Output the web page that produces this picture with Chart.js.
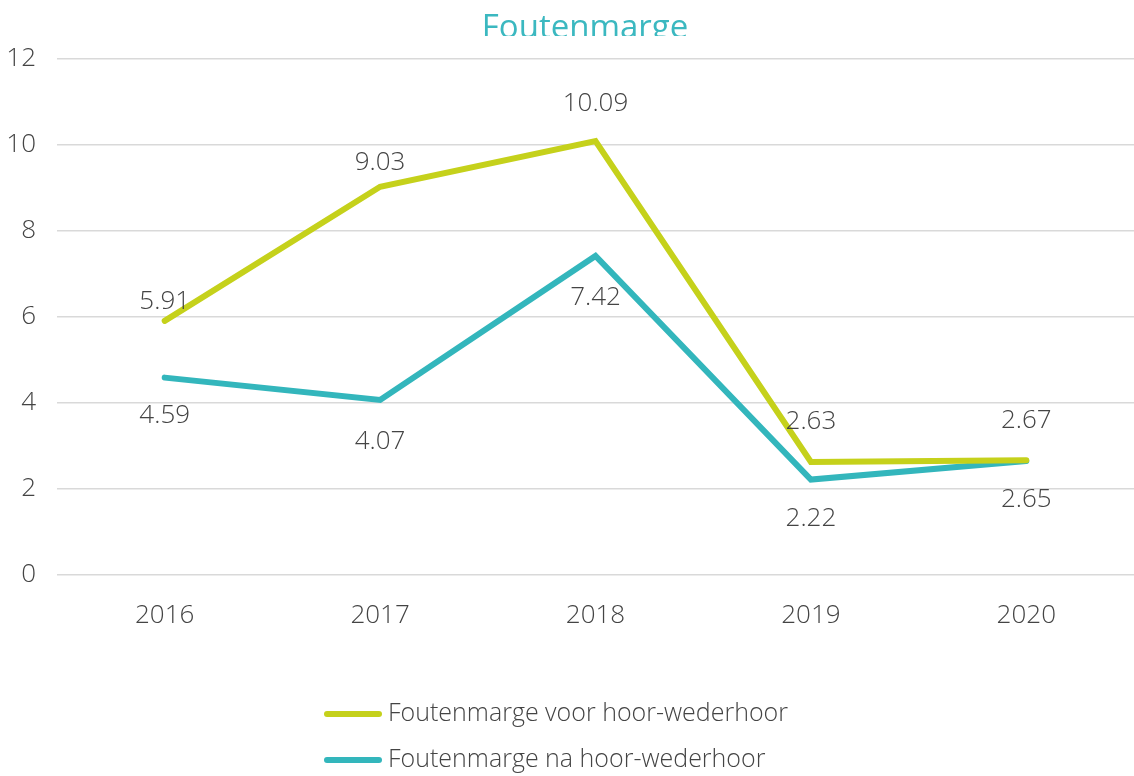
<!DOCTYPE html>
<html>
<head>
<meta charset="utf-8">
<script src="https://cdn.jsdelivr.net/npm/chart.js@4/dist/chart.umd.min.js"></script>
<style>
  html, body { margin: 0; padding: 0; background: #ffffff; }
  #wrap { width: 1134px; height: 776px; position: relative; }
</style>
</head>
<body>
<div id="wrap"><canvas id="c" width="1134" height="776"></canvas></div>
<script>
const title = "Foutenmarge";
const categories = ["2016", "2017", "2018", "2019", "2020"];
const seriesNames = ["Foutenmarge voor hoor-wederhoor", "Foutenmarge na hoor-wederhoor"];
const voorValues = [5.91, 9.03, 10.09, 2.63, 2.67];
const naValues = [4.59, 4.07, 7.42, 2.22, 2.65];
const yTicks = [0, 2, 4, 6, 8, 10, 12];

const FONT = "'Open Sans', 'DejaVu Sans', sans-serif";
const YELLOW = "#c5d11b";
const TEAL = "#33b6bc";
const TEXT = "#444444";

const labelPlugin = {
  id: "valueLabels",
  afterDatasetsDraw(chart) {
    const ctx = chart.ctx;
    ctx.save();
    ctx.font = "300 26px " + FONT;
    ctx.fillStyle = TEXT;
    ctx.textAlign = "center";
    ctx.textBaseline = "middle";
    chart.data.datasets.forEach((ds, di) => {
      const meta = chart.getDatasetMeta(di);
      meta.data.forEach((pt, i) => {
        const off = ds.labelOffsets[i];
        ctx.fillText(ds.data[i].toFixed(2), pt.x, pt.y + off);
      });
    });
    ctx.restore();
  }
};

const decorPlugin = {
  id: "decor",
  afterDraw(chart) {
    const ctx = chart.ctx;
    ctx.save();
    // title (clipped at its bottom, as in the reference)
    ctx.save();
    ctx.beginPath();
    ctx.rect(0, 0, chart.width, 36);
    ctx.clip();
    ctx.font = "400 33px " + FONT;
    ctx.fillStyle = "#3bb8c0";
    ctx.textAlign = "center";
    ctx.textBaseline = "alphabetic";
    ctx.fillText(title, 585, 38);
    ctx.restore();
    // legend (vertical, bottom)
    const rows = [714, 760];
    chart.data.datasets.forEach((ds, i) => {
      const y = rows[i];
      ctx.strokeStyle = ds.borderColor;
      ctx.lineWidth = 6;
      ctx.lineCap = "round";
      ctx.beginPath();
      ctx.moveTo(327, y);
      ctx.lineTo(379, y);
      ctx.stroke();
      ctx.font = "300 25px " + FONT;
      ctx.fillStyle = TEXT;
      ctx.textAlign = "left";
      ctx.textBaseline = "middle";
      ctx.fillText(ds.label, 388, y);
    });
    ctx.restore();
  }
};

new Chart(document.getElementById("c"), {
  type: "line",
  data: {
    labels: categories,
    datasets: [
      {
        label: seriesNames[0],
        data: voorValues,
        borderColor: YELLOW,
        backgroundColor: YELLOW,
        borderWidth: 6,
        borderCapStyle: "round",
        pointRadius: 0,
        tension: 0,
        labelOffsets: [-19, -24, -38, -40, -40]
      },
      {
        label: seriesNames[1],
        data: naValues,
        borderColor: TEAL,
        backgroundColor: TEAL,
        borderWidth: 6,
        borderCapStyle: "round",
        pointRadius: 0,
        tension: 0,
        labelOffsets: [38, 42, 42, 39, 39]
      }
    ]
  },
  options: {
    responsive: false,
    animation: false,
    layout: { padding: { top: 59, right: 0, bottom: 0, left: 0 } },
    plugins: {
      legend: { display: false },
      title: { display: false },
      tooltip: { enabled: false }
    },
    scales: {
      x: {
        offset: true,
        grid: { display: false, drawTicks: false },
        border: { display: false },
        ticks: { color: TEXT, font: { family: FONT, size: 26, weight: 300 }, padding: 25 },
        afterFit(scale) { scale.height = 201; }
      },
      y: {
        min: 0,
        max: 12,
        afterBuildTicks(scale) { scale.ticks = yTicks.map(v => ({ value: v })); },
        grid: { color: "#d9d9d9", lineWidth: 1.5, drawTicks: false },
        border: { display: false },
        ticks: { color: TEXT, font: { family: FONT, size: 26, weight: 300 }, padding: 21 },
        afterFit(scale) { scale.width = 57; }
      }
    }
  },
  plugins: [labelPlugin, decorPlugin]
});
</script>
</body>
</html>
